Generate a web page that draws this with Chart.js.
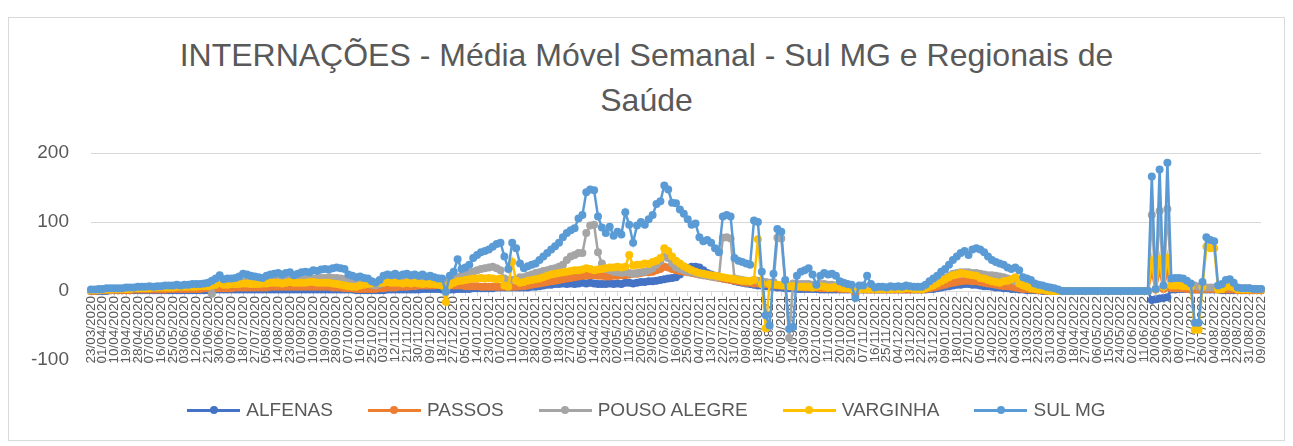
<!DOCTYPE html>
<html lang="pt-BR">
<head>
<meta charset="utf-8">
<title>Internações - Média Móvel Semanal</title>
<script src="https://cdn.jsdelivr.net/npm/chart.js@4/dist/chart.umd.min.js"></script>
<style>
    body { margin: 0; background: #fff; }
    #wrap { position: relative; width: 1293px; height: 446px; overflow: hidden; font-family: 'Liberation Sans', Arial, sans-serif; }
    #frame { position: absolute; left: 8px; top: 17px; width: 1277px; height: 424px; box-sizing: border-box; border: 1px solid #d9d9d9; }
    #titulo { position: absolute; left: 0; top: 33px; width: 1293px; text-align: center; font-size: 32px; line-height: 45px; color: #595959; }
    #grafico { position: absolute; left: 0; top: 0; }
    #legenda { position: absolute; left: 0; top: 399px; width: 1293px; display: flex; justify-content: center; gap: 35px; font-size: 19px; color: #595959; }
    .item { display: flex; align-items: center; gap: 6px; }
    .marca { position: relative; width: 53px; height: 3px; }
    .marca span { position: absolute; left: 50%; top: 50%; width: 8px; height: 8px; border-radius: 50%; transform: translate(-50%, -50%); }
</style>
</head>
<body>
<div id="wrap">
    <div id="frame"></div>
    <div id="titulo">INTERNAÇÕES - Média Móvel Semanal - Sul MG e Regionais de<br>Saúde</div>
    <canvas id="grafico" width="1293" height="446"></canvas>
    <div id="legenda"></div>
</div>
<script>
// rótulos do eixo x (um a cada 9 dias)
const DATAS = [
    '23/03/2020', '01/04/2020', '10/04/2020', '19/04/2020', '28/04/2020', '07/05/2020', '16/05/2020', '25/05/2020',
    '03/06/2020', '12/06/2020', '21/06/2020', '30/06/2020', '09/07/2020', '18/07/2020', '27/07/2020', '05/08/2020',
    '14/08/2020', '23/08/2020', '01/09/2020', '10/09/2020', '19/09/2020', '28/09/2020', '07/10/2020', '16/10/2020',
    '25/10/2020', '03/11/2020', '12/11/2020', '21/11/2020', '30/11/2020', '09/12/2020', '18/12/2020', '27/12/2020',
    '05/01/2021', '14/01/2021', '23/01/2021', '01/02/2021', '10/02/2021', '19/02/2021', '28/02/2021', '09/03/2021',
    '18/03/2021', '27/03/2021', '05/04/2021', '14/04/2021', '23/04/2021', '02/05/2021', '11/05/2021', '20/05/2021',
    '29/05/2021', '07/06/2021', '16/06/2021', '25/06/2021', '04/07/2021', '13/07/2021', '22/07/2021', '31/07/2021',
    '09/08/2021', '18/08/2021', '27/08/2021', '05/09/2021', '14/09/2021', '23/09/2021', '02/10/2021', '11/10/2021',
    '20/10/2021', '29/10/2021', '07/11/2021', '16/11/2021', '25/11/2021', '04/12/2021', '13/12/2021', '22/12/2021',
    '31/12/2021', '09/01/2022', '18/01/2022', '27/01/2022', '05/02/2022', '14/02/2022', '23/02/2022', '04/03/2022',
    '13/03/2022', '22/03/2022', '31/03/2022', '09/04/2022', '18/04/2022', '27/04/2022', '06/05/2022', '15/05/2022',
    '24/05/2022', '02/06/2022', '11/06/2022', '20/06/2022', '29/06/2022', '08/07/2022', '17/07/2022', '26/07/2022',
    '04/08/2022', '13/08/2022', '22/08/2022', '31/08/2022', '09/09/2022'
];

// valores, um ponto a cada 3 dias (3 pontos entre dois rótulos)
const ALFENAS = [
    0,0,0, 0,0,1, 1,1,1, 1,1,1, 1,1,1, 1,1,1, 1,1,1, 1,1,1, 1,1,1, 1,1,1,
    1,2,2, 2,2,2, 2,2,2, 2,2,2, 2,2,2, 2,2,2, 2,2,2, 2,2,2, 2,2,2, 2,2,2,
    2,2,2, 2,2,2, 2,2,1, 1,1,1, 1,1,1, 1,2,2, 2,2,2, 2,2,2, 2,3,3, 3,3,3,
    2,2,2, 2,3,3, 3,3,4, 4,4,4, 4,4,5, 5,5,5, 5,5,5, 5,5,6, 6,7,8, 9,9,10,
    10,11,10, 11,10,11, 12,11,12, 11,10,10, 10,11,10, 11,10,12, 12,11,12, 13,13,14, 14,15,16, 17,18,19,
    20,24,30, 33,35,35, 34,30,26, 24,22,20, 18,17,16, 14,13,12, 11,10,9, 8,8,7, 6,6,5, 5,4,4,
    4,3,3, 3,3,3, 3,2,2, 2,2,2, 2,2,2, 2,2,2, 2,2,2, 2,2,2, 2,2,2, 2,2,2,
    2,2,2, 2,2,3, 3,4,5, 6,7,8, 9,9,10, 10,9,9, 8,7,7, 6,5,5, 4,4,3, 3,2,2,
    1,1,1, 1,0,0, 0,0,0, 0,0,0, 0,0,0, 0,0,0, 0,0,0, 0,0,0, 0,0,0, 0,0,0,
    0,0,-13, -12,-11,-10, -9,2,2, 3,3,3, 2,2,2, 2,2,2, 2,2,1, 1,1,1, 1,1,1, 1,1,1,
    1
];
const PASSOS = [
    0,0,1, 1,1,1, 1,1,1, 1,1,2, 2,2,2, 2,2,2, 2,2,3, 3,3,3, 3,3,3, 3,3,4,
    4,4,4, 4,4,4, 4,5,5, 5,5,5, 5,5,5, 5,6,6, 6,6,6, 6,6,6, 6,6,6, 6,6,6,
    6,6,5, 5,5,4, 4,4,3, 3,3,3, 3,3,4, 4,5,5, 5,6,6, 6,7,7, 8,8,8, 8,8,9,
    8,8,8, 8,8,8, 7,7,7, 7,6,6, 6,6,6, 6,6,6, 6,6,7, 7,8,9, 10,11,12, 13,14,15,
    16,17,18, 19,20,21, 22,22,23, 23,22,22, 21,21,22, 22,23,23, 24,25,25, 26,27,27, 28,30,32, 35,34,32,
    30,29,28, 27,26,25, 24,23,22, 21,20,19, 18,17,16, 15,14,13, 12,12,11, 11,10,10, 9,9,8, 8,7,7,
    6,6,6, 5,5,5, 5,4,4, 4,4,4, 3,3,3, 3,-5,3, 2,2,2, 2,2,2, 2,2,2, 2,2,2,
    2,2,2, 2,3,4, 5,6,8, 9,11,12, 13,14,15, 15,14,14, 13,12,11, 10,9,8, 7,7,6, 5,4,3,
    3,2,2, 1,1,0, 0,0,0, 0,0,0, 0,0,0, 0,0,0, 0,0,0, 0,0,0, 0,0,0, 0,0,0,
    0,0,28, 2,30,3, 30,4,4, 4,4,3, 3,2,2, 2,3,3, 3,2,2, 2,2,2, 1,1,1, 1,1,1,
    1
];
const POUSO_ALEGRE = [
    1,1,1, 2,2,2, 2,3,3, 3,3,4, 4,4,5, 5,5,5, 6,6,6, 6,6,7, 7,7,7, 7,8,8,
    9,-4,12, 13,12,12, 12,12,13, 13,14,13, 13,13,14, 14,15,15, 15,16,16, 16,16,17, 17,17,18, 18,18,19,
    19,20,19, 19,18,17, 14,12,11, 12,11,10, 9,8,10, 13,15,16, 16,17,16, 17,16,17, 17,18,18, 19,18,18,
    17,15,16, 18,20,22, 24,26,28, 30,32,33, 34,35,33, 30,18,16, 16,17,20, 20,22,24, 26,27,29, 30,32,33,
    35,38,45, 50,52,55, 55,84,95, 96,56,40, 32,30,28, 27,26,27, 26,25,26, 27,28,30, 33,38,44, 50,48,40,
    34,32,30, 28,27,26, 24,23,22, 21,20,20, 77,78,76, 18,17,16, 15,14,16, 15,14,13, 12,13,77, 76,12,-68,
    11,10,10, 10,10,9, 9,10,10, 9,9,8, 8,7,7, 6,5,6, 6,5,5, 5,5,5, 5,5,5, 5,5,6,
    5,5,5, 4,6,8, 10,13,16, 19,22,25, 26,27,27, 27,26,26, 25,24,23, 23,22,21, 20,18,16, 14,11,9,
    7,5,4, 3,2,1, 0,0,0, 0,0,0, 0,0,0, 0,0,0, 0,0,0, 0,0,0, 0,0,0, 0,0,0,
    0,0,110, 3,116,6, 119,14,13, 12,12,11, 10,8,6, 6,5,5, 5,6,6, 6,6,5, 4,4,4, 4,3,3,
    3
];
const VARGINHA = [
    1,1,2, 2,2,2, 3,3,3, 3,3,4, 4,4,4, 4,5,5, 5,5,5, 5,6,6, 6,6,6, 6,7,7,
    7,8,9, 12,9,9, 10,10,10, 11,11,10, 10,10,11, 11,12,12, 12,11,12, 13,12,12, 12,12,13, 13,12,12,
    12,12,11, 10,9,8, 7,6,6, 8,9,10, 11,12,12, 12,13,12, 12,12,11, 12,11,12, 11,10,11, 10,10,9,
    8,-16,9, 12,14,15, 16,17,18, 18,19,18, 19,18,17, 18,8,6, 42,15,12, 13,15,16, 17,18,20, 22,24,25,
    26,27,28, 29,30,30, 31,33,32, 30,31,32, 33,34,34, 35,34,35, 52,37,38, 38,40,39, 42,44,48, 62,58,50,
    44,40,36, 33,30,28, 26,25,24, 23,22,21, 20,19,18, 17,16,15, 15,14,16, 75,10,-54, 10,9,9, 8,8,7,
    7,6,6, 6,6,5, 6,7,6, 5,5,6, 5,4,4, 3,2,3, 3,3,3, 3,3,3, 3,3,3, 3,3,4,
    4,3,3, 2,4,6, 8,11,14, 17,20,23, 24,26,25, 24,23,22, 19,18,16, 14,13,12, 14,15,17, 20,11,8,
    6,4,3, 2,2,1, 0,0,0, 0,0,0, 0,0,0, 0,0,0, 0,0,0, 0,0,0, 0,0,0, 0,0,0,
    0,0,44, 3,46,6, 48,8,8, 8,7,7, 6,-56,-56, 6,64,62, 62,2,3, 6,7,5, 2,2,2, 2,2,2,
    2
];
const SUL_MG = [
    2,2,3, 3,4,4, 4,4,4, 5,5,5, 6,6,6, 7,6,7, 7,8,8, 8,9,8, 9,9,10, 10,10,11,
    12,15,18, 23,17,18, 18,19,21, 25,24,22, 21,20,19, 22,24,25, 26,24,26, 27,23,25, 27,28,27, 30,29,31,
    32,31,33, 34,33,32, 24,22,20, 21,19,18, 14,12,16, 22,24,23, 25,22,24, 25,23,24, 22,24,21, 22,20,18,
    18,-1,22, 28,46,32, 34,38,48, 52,56,58, 60,64,68, 70,50,32, 70,62,40, 33,36,38, 40,45,50, 55,60,65,
    70,78,84, 88,91,105, 110,143,147, 146,108,92, 84,93,80, 86,82,114, 96,70,95, 100,96,104, 110,126,130, 153,147,128,
    127,118,112, 104,96,98, 78,72,74, 70,62,56, 108,110,108, 48,44,42, 40,38,102, 100,28,-35, -50,25,90, 86,16,-55,
    -52,22,28, 30,33,24, 9,22,26, 24,25,22, 14,12,10, 9,-10,8, 8,22,10, 5,6,6, 5,7,6, 7,6,8,
    7,6,6, 6,9,14, 18,22,28, 32,38,45, 50,55,58, 52,60,62, 60,56,50, 45,42,40, 38,34,32, 34,30,20,
    18,16,11, 9,8,6, 5,4,2, 0,0,0, 0,0,0, 0,0,0, 0,0,0, 0,0,0, 0,0,0, 0,0,0,
    0,0,166, 3,176,8, 186,18,19, 19,18,15, 11,-46,-46, 13,78,74, 72,8,10, 16,17,12, 5,4,4, 4,3,3,
    3
];

const SERIES = [
    { nome: 'ALFENAS', valores: ALFENAS, cor: '#4472C4' },
    { nome: 'PASSOS', valores: PASSOS, cor: '#ED7D31' },
    { nome: 'POUSO ALEGRE', valores: POUSO_ALEGRE, cor: '#A5A5A5' },
    { nome: 'VARGINHA', valores: VARGINHA, cor: '#FFC000' },
    { nome: 'SUL MG', valores: SUL_MG, cor: '#5B9BD5' }
];

const FONTE = "'Liberation Sans', Arial, sans-serif";

// cada rótulo vem seguido de dois pontos sem rótulo
let labels = [];
DATAS.forEach((d, i) => {
    labels.push(d);
    if (i < DATAS.length - 1) labels.push('', '');
});

let datasets = SERIES.map((s, i) => ({
    label: s.nome,
    data: s.valores,
    borderColor: s.cor,
    backgroundColor: s.cor,
    pointBackgroundColor: s.cor,
    pointBorderColor: s.cor,
    borderWidth: 2.5,
    pointRadius: 4,
    pointBorderWidth: 0,
    tension: 0,
    // a série SUL MG fica por cima das outras
    order: SERIES.length - i
}));

const element = document.getElementById('grafico').getContext('2d');
const graph = new Chart(element, {
    type: 'line',
    data: { labels: labels, datasets: datasets },
    options: {
        responsive: false,
        animation: false,
        layout: { padding: { top: 153, bottom: 86, left: 0, right: 32 } },
        plugins: {
            legend: { display: false },
            title: { display: false },
            tooltip: { enabled: false }
        },
        scales: {
            x: {
                position: { y: 0 },
                afterFit: (scale) => { scale.height = 0; },
                grid: {
                    drawOnChartArea: false,
                    tickLength: 4,
                    tickColor: (ctx) => ctx.index % 3 === 0 ? '#d9d9d9' : 'rgba(0,0,0,0)'
                },
                border: { color: '#d9d9d9', width: 1 },
                ticks: {
                    autoSkip: false,
                    maxRotation: 90,
                    minRotation: 90,
                    padding: 1,
                    color: '#595959',
                    font: { family: FONTE, size: 13.5 }
                }
            },
            y: {
                min: -100,
                max: 200,
                afterFit: (scale) => { scale.width = 91; },
                grid: { color: '#d9d9d9', drawTicks: false },
                border: { display: false },
                ticks: {
                    stepSize: 100,
                    padding: 22,
                    color: '#595959',
                    font: { family: FONTE, size: 19 }
                }
            }
        }
    }
});

// legenda no estilo do Excel: linha com marcador
const legenda = document.getElementById('legenda');
SERIES.forEach(s => {
    let item = document.createElement('div');
    item.className = 'item';
    item.innerHTML = '<div class="marca" style="background:' + s.cor + '"><span style="background:' + s.cor + '"></span></div>' +
        '<div>' + s.nome + '</div>';
    legenda.appendChild(item);
});
</script>
</body>
</html>
